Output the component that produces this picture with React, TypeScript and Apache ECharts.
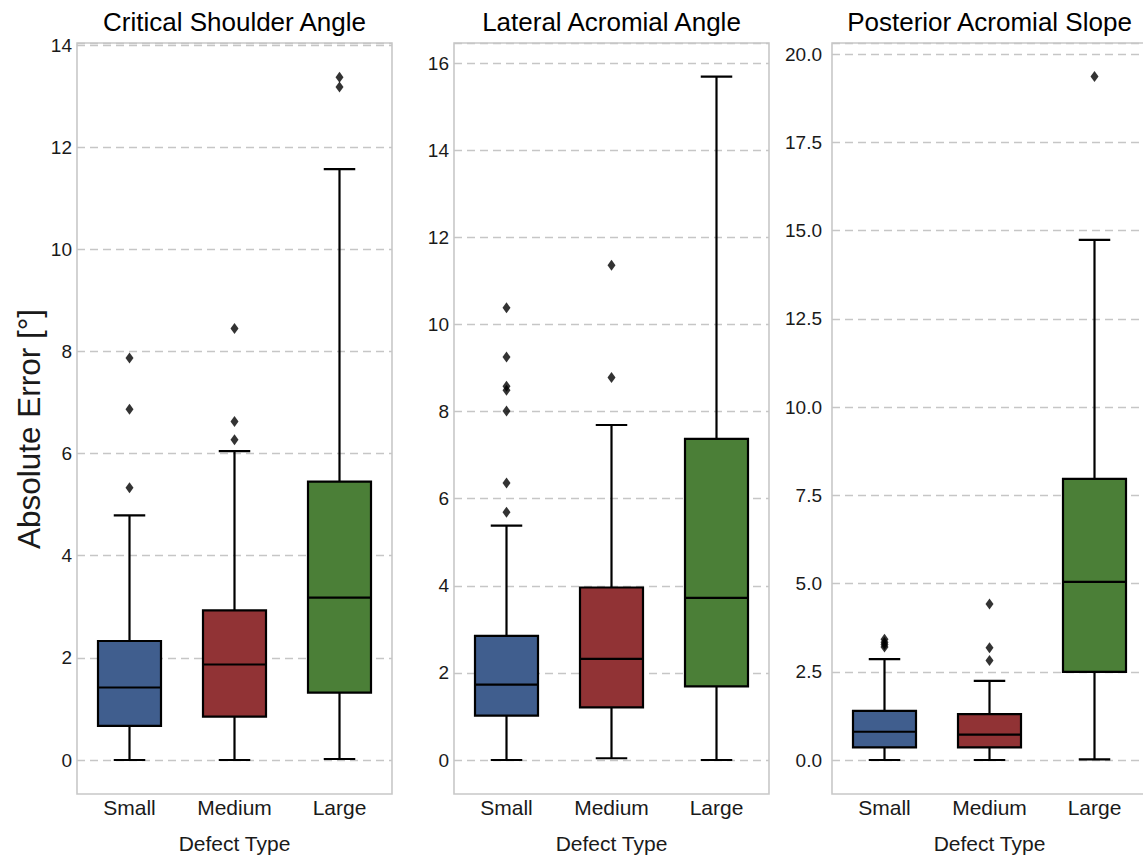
import React, { useEffect, useRef } from "react";
import * as echarts from "echarts";

const categories = ["Small", "Medium", "Large"];
const panelTitles = ["Critical Shoulder Angle", "Lateral Acromial Angle", "Posterior Acromial Slope"];
const yLabel = "Absolute Error [°]";
const xLabel = "Defect Type";

// [lower whisker, Q1, median, Q3, upper whisker]
const csaStats = [
  [0, 0.67, 1.42, 2.33, 4.79],
  [0, 0.85, 1.87, 2.93, 6.05],
  [0.02, 1.32, 3.18, 5.45, 11.57],
];
const csaOutliers = [[5.33, 6.87, 7.87], [6.27, 6.63, 8.45], [13.18, 13.37]];

const laaStats = [
  [0, 1.02, 1.73, 2.85, 5.38],
  [0.04, 1.21, 2.32, 3.96, 7.69],
  [0, 1.69, 3.72, 7.37, 15.69],
];
const laaOutliers = [[5.69, 6.36, 8.01, 8.49, 8.58, 9.25, 10.38], [8.78, 11.36], []];

const pasStats = [
  [0, 0.36, 0.8, 1.39, 2.86],
  [0, 0.36, 0.72, 1.3, 2.24],
  [0.02, 2.5, 5.05, 7.97, 14.74],
];
const pasOutliers = [[3.2, 3.27, 3.34, 3.42], [2.82, 3.18, 4.42], [19.37]];

const yMax = [14.04, 16.46, 20.32];
const yInterval = [2, 2, 2.5];

const fills = ["#405E8E", "#913335", "#4B7F37"];
const FONT = "Liberation Sans, Arial, Helvetica, sans-serif";
const TEXT = "#1a1a1a";

export default function App() {
  const ref = useRef<HTMLDivElement>(null);
  useEffect(() => {
    if (!ref.current) return;
    const chart = echarts.init(ref.current, null, { renderer: "svg" });
    const stats = [csaStats, laaStats, pasStats];
    const outs = [csaOutliers, laaOutliers, pasOutliers];
    const lefts = [77, 454, 832];
    const W = 315;
    const TOP = 43;
    const ZERO = 760;
    const FRAME_BOTTOM = 794;
    const labelMargins = [5, 5, 10];

    const grids = lefts.map((l) => ({
      left: l,
      top: TOP,
      width: W,
      height: ZERO - TOP,
      containLabel: false,
      outerBoundsMode: "none",
    }));
    const xAxes = lefts.map((_, i) => ({
      type: "category",
      gridIndex: i,
      data: categories,
      axisLine: { show: false },
      axisTick: { show: false },
      splitLine: { show: false },
      axisLabel: { fontSize: 21, color: TEXT, fontFamily: FONT, margin: 37 },
      name: xLabel,
      nameLocation: "middle",
      nameGap: 73,
      nameTextStyle: { fontSize: 21, color: TEXT, fontFamily: FONT },
    }));
    const yAxes = lefts.map((_, i) => ({
      type: "value",
      gridIndex: i,
      min: 0,
      max: yMax[i],
      interval: yInterval[i],
      axisLine: { show: false },
      axisTick: { show: false },
      splitLine: { show: true, lineStyle: { color: "#c6c6c6", width: 1.3, type: [8, 5] } },
      axisLabel: {
        fontSize: 19,
        color: TEXT,
        fontFamily: FONT,
        margin: labelMargins[i],
        showMaxLabel: false,
        formatter: (v: number) => (i === 2 ? v.toFixed(1) : String(Math.round(v))),
      },
    }));

    const series: any[] = [];
    stats.forEach((st, p) => {
      series.push({
        type: "custom",
        xAxisIndex: p,
        yAxisIndex: p,
        z: 3,
        encode: { x: 0, y: [1, 2, 3, 4, 5] },
        data: st.map((s, i) => [i, ...s]),
        renderItem: (params: any, api: any) => {
          const idx = api.value(0);
          const lo = api.coord([idx, api.value(1)]);
          const q1 = api.coord([idx, api.value(2)]);
          const md = api.coord([idx, api.value(3)]);
          const q3 = api.coord([idx, api.value(4)]);
          const hi = api.coord([idx, api.value(5)]);
          const band = api.size([1, 0])[0];
          const bw = band * 0.6;
          const cw = bw / 2;
          const x = lo[0];
          const ls = { stroke: "#000", lineWidth: 2.2, fill: null };
          return {
            type: "group",
            children: [
              { type: "line", shape: { x1: x, y1: lo[1], x2: x, y2: q1[1] }, style: ls },
              { type: "line", shape: { x1: x, y1: q3[1], x2: x, y2: hi[1] }, style: ls },
              { type: "line", shape: { x1: x - cw / 2, y1: lo[1], x2: x + cw / 2, y2: lo[1] }, style: ls },
              { type: "line", shape: { x1: x - cw / 2, y1: hi[1], x2: x + cw / 2, y2: hi[1] }, style: ls },
              {
                type: "rect",
                shape: { x: x - bw / 2, y: q3[1], width: bw, height: q1[1] - q3[1] },
                style: { fill: fills[idx], stroke: "#000", lineWidth: 2.2 },
              },
              { type: "line", shape: { x1: x - bw / 2, y1: md[1], x2: x + bw / 2, y2: md[1] }, style: ls },
            ],
          };
        },
      });
      series.push({
        type: "scatter",
        xAxisIndex: p,
        yAxisIndex: p,
        z: 4,
        symbol: "diamond",
        symbolSize: [8, 11],
        itemStyle: { color: "#000" },
        data: outs[p].flatMap((vals, i) => vals.map((v) => [i, v])),
      });
    });

    const graphics: any[] = lefts.map((l) => ({
      type: "rect",
      z: -10,
      silent: true,
      shape: { x: l, y: TOP, width: W, height: FRAME_BOTTOM - TOP },
      style: { fill: "none", stroke: "#c8c8c8", lineWidth: 1.6 },
    }));
    graphics.push({
      type: "text",
      x: 29,
      y: 429,
      rotation: Math.PI / 2,
      style: {
        text: yLabel,
        fontSize: 31.5,
        fontFamily: FONT,
        fill: TEXT,
        textAlign: "center",
        textVerticalAlign: "middle",
      },
    });

    chart.setOption({
      animation: false,
      backgroundColor: "#ffffff",
      title: panelTitles.map((t, i) => ({
        text: t,
        left: lefts[i] + W / 2,
        top: 9,
        padding: 0,
        textAlign: "center",
        textStyle: { fontSize: 26, fontWeight: "normal", color: "#000", fontFamily: FONT },
      })),
      grid: grids,
      xAxis: xAxes,
      yAxis: yAxes,
      series,
      graphic: graphics,
    });
    return () => chart.dispose();
  }, []);
  return (
    <div
      ref={ref}
      style={{ position: "fixed", left: 0, top: 0, width: 1143, height: 855, background: "#fff" }}
    />
  );
}
